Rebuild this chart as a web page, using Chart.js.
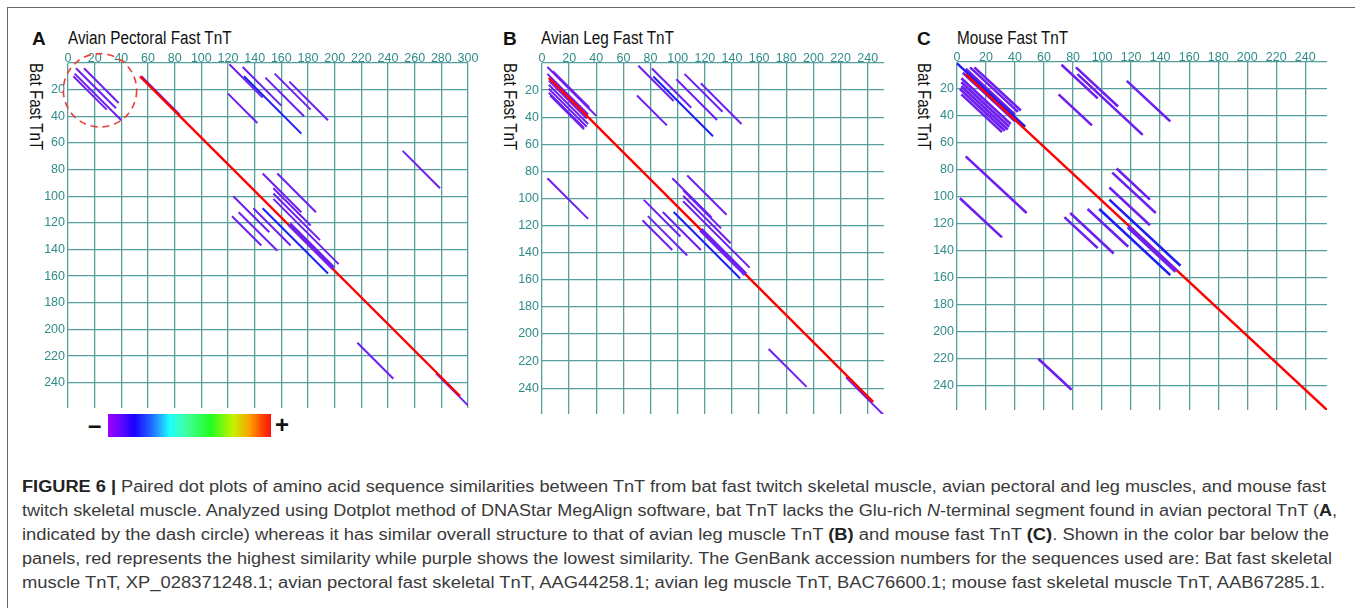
<!DOCTYPE html>
<html>
<head>
<meta charset="utf-8">
<script src="https://cdn.jsdelivr.net/npm/chart.js@4.4.1/dist/chart.umd.min.js"></script>
<style>
  body { margin: 0; background: #fff; }
  #fig { position: relative; width: 1355px; height: 608px; overflow: hidden; color: #111;
         font-family: 'Liberation Sans', Arial, sans-serif; }
  .frameTop { position: absolute; left: 7px; top: 7px; width: 1348px; height: 1px; background: #666; }
  .frameLeft { position: absolute; left: 7px; top: 7px; width: 1px; height: 601px; background: #666; }
  canvas { position: absolute; }
  .letter { position: absolute; font: bold 19px/19px 'Liberation Sans', Arial, sans-serif; }
  .ptitle { position: absolute; font-size: 18px; line-height: 18px; white-space: nowrap;
            transform: scaleX(0.85); transform-origin: 0 0; }
  .ytitle { position: absolute; writing-mode: vertical-rl; font-size: 18px; line-height: 18px; white-space: nowrap;
            transform: scaleY(0.84); transform-origin: 0 0; }
  #cbar { position: absolute; left: 108px; top: 414px; width: 163px; height: 23px;
          background: linear-gradient(to right, #a000ff 0%, #6008ff 8%, #1a00ff 16%, #2060ff 26%, #20ffff 38%,
                      #40ffa0 48%, #20ff20 63%, #c8f000 77%, #ffa000 87%, #ff4000 95%, #ff1010 100%); }
  .sign { position: absolute; font: bold 24px/24px 'Liberation Sans', Arial, sans-serif; }
  #caption { position: absolute; left: 22px; top: 475px; font: 16px/24px 'Liberation Sans', Arial, sans-serif; color: #3a3a3a; }
  #caption div { white-space: nowrap; transform-origin: 0 0; width: max-content; }
  #caption b { color: #222; }
</style>
</head>
<body>
<div id="fig">
  <div class="frameTop"></div>
  <div class="frameLeft"></div>

  <div class="letter" style="left:32px;top:29px">A</div>
  <div class="ptitle" style="left:68px;top:29px">Avian Pectoral Fast TnT</div>
  <div class="ytitle" style="left:27px;top:63px">Bat Fast TnT</div>

  <div class="letter" style="left:503px;top:29px">B</div>
  <div class="ptitle" style="left:541px;top:29px">Avian Leg Fast TnT</div>
  <div class="ytitle" style="left:501px;top:63px">Bat Fast TnT</div>

  <div class="letter" style="left:917px;top:29px">C</div>
  <div class="ptitle" style="left:957px;top:29px">Mouse Fast TnT</div>
  <div class="ytitle" style="left:915px;top:63px">Bat Fast TnT</div>

  <div class="sign" style="left:88px;top:413px">&ndash;</div>
  <div id="cbar"></div>
  <div class="sign" style="left:275px;top:413px">+</div>

  <div id="caption">
    <div><b>FIGURE 6 |</b> Paired dot plots of amino acid sequence similarities between TnT from bat fast twitch skeletal muscle, avian pectoral and leg muscles, and mouse fast</div>
    <div>twitch skeletal muscle. Analyzed using Dotplot method of DNAStar MegAlign software, bat TnT lacks the Glu-rich <i>N</i>-terminal segment found in avian pectoral TnT (<b>A</b>,</div>
    <div>indicated by the dash circle) whereas it has similar overall structure to that of avian leg muscle TnT <b>(B)</b> and mouse fast TnT <b>(C)</b>. Shown in the color bar below the</div>
    <div>panels, red represents the highest similarity while purple shows the lowest similarity. The GenBank accession numbers for the sequences used are: Bat fast skeletal</div>
    <div>muscle TnT, XP_028371248.1; avian pectoral fast skeletal TnT, AAG44258.1; avian leg muscle TnT, BAC76600.1; mouse fast skeletal muscle TnT, AAB67285.1.</div>
  </div>
</div>

<script>
// diagonal match segments: [start x (query residue), start y (bat residue), length]
// A: avian pectoral fast TnT (x) vs bat fast TnT (y)
const aPurple = [[5, 8, 35], [12, 4, 26], [6, 4, 30], [8, 6, 22], [4, 10, 25], [7, 5, 27], [55, 10, 29],
  [121, 1, 25], [131, 3, 29], [148, 11, 29], [155, 8, 27], [166, 14, 29], [120, 23, 22], [251, 66, 28],
  [146, 83, 29], [157, 83, 29], [154, 94, 28], [154, 98, 35], [154, 102, 49], [124, 100, 27],
  [128, 112, 29], [123, 115, 22], [139, 109, 28], [217, 210, 27], [276, 233, 24]];
const aBlue = [[132, 10, 43], [146, 109, 49]];
const aRed = [[54, 10, 240]];
const aThick = [[166, 121, 33]];

// B: avian leg fast TnT (x) vs bat fast TnT (y)
const bPurple = [[4, 3, 36], [6, 5, 30], [8, 6, 27], [4, 8, 30], [5, 13, 28], [5, 16, 29], [5, 19, 28],
  [5, 22, 26], [6, 24, 25], [71, 2, 26], [81, 4, 29], [99, 12, 30], [105, 8, 28], [117, 15, 30], [70, 24, 22],
  [4, 85, 30], [96, 85, 29], [107, 83, 29], [104, 94, 28], [104, 98, 35], [104, 102, 49], [75, 101, 27],
  [78, 113, 29], [74, 116, 22], [89, 110, 28], [167, 211, 28], [224, 232, 28]];
const bBlue = [[82, 10, 44], [97, 110, 49]];
const bRed = [[5, 11, 239]];
const bThick = [[117, 123, 33]];

// C: mouse fast TnT (x) vs bat fast TnT (y)
const cPurple = [[12, 4, 32], [9, 4, 33], [6, 5, 34], [4, 8, 36], [3, 12, 34], [3, 15, 33], [3, 18, 32],
  [3, 21, 30], [3, 24, 28], [8, 10, 34], [14, 6, 30], [5, 14, 32], [2, 20, 30],
  [72, 2, 25], [82, 4, 29], [83, 9, 45], [70, 24, 23], [117, 14, 30],
  [6, 70, 42], [2, 101, 29], [110, 79, 23], [107, 82, 30], [105, 93, 28], [90, 109, 28], [78, 112, 30],
  [74, 115, 23], [56, 220, 23]];
const cBlue = [[0, 1, 47], [105, 102, 49], [98, 109, 49]];
const cRed = [[6, 9, 249]];
const cThick = [[118, 122, 33]];

const xTicksStep = 20;
const yTicksStep = 20;
const circleCenter = [24, 20.5];   // dash circle around the Glu-rich N-terminal region (panel A)
const circleRadius = 27.5;

const PURPLE = '#6f1ff0', BLUE = '#1f1ff5', RED = '#ff0000';
const tickColor = '#2f8c89';
const gridColor = '#55a09c';
const fontFam = "'Liberation Sans', Arial, sans-serif";

const panels = [
  { area: [68.3, 63.3, 468.3, 408.3], xMax: 300, yMax: 259, purple: aPurple, blue: aBlue, red: aRed, thick: aThick, lw: 2, circle: true },
  { area: [541.7, 62.9, 883.3, 413.8], xMax: 252, yMax: 259, purple: bPurple, blue: bBlue, red: bRed, thick: bThick, lw: 2 },
  { area: [956.7, 62.3, 1326.7, 410], xMax: 255, yMax: 258, purple: cPurple, blue: cBlue, red: cRed, thick: cThick, lw: 2.6 }
];

function toLine(segs) {
  return segs.flatMap(([x, y, n]) => [{ x, y }, { x: x + n, y: y + n }, { x: null, y: null }]);
}

const dashCircle = {
  id: 'dashCircle',
  afterDatasetsDraw(chart) {
    if (!chart.options.plugins.dashCircle.show) return;
    const { ctx, scales: { x, y } } = chart;
    const cx = x.getPixelForValue(circleCenter[0]);
    const cy = y.getPixelForValue(circleCenter[1]);
    const r = x.getPixelForValue(circleCenter[0] + circleRadius) - cx;
    ctx.save();
    ctx.strokeStyle = '#e8403a';
    ctx.lineWidth = 1.6;
    ctx.setLineDash([7, 5]);
    ctx.beginPath();
    ctx.arc(cx, cy, r, 0, Math.PI * 2);
    ctx.stroke();
    ctx.restore();
  }
};

const W = 36, H = 22, padR = 18, padB = 14;
const fig = document.getElementById('fig');

panels.forEach(p => {
  const [l, t, r, b] = p.area;
  const canvas = document.createElement('canvas');
  canvas.width = Math.round(r - l + W + padR);
  canvas.height = Math.round(b - t + H + padB);
  canvas.style.left = (l - W) + 'px';
  canvas.style.top = (t - H) + 'px';
  fig.appendChild(canvas);

  const common = { showLine: true, pointRadius: 0, pointHoverRadius: 0, fill: false, tension: 0, spanGaps: false, borderCapStyle: 'butt' };

  new Chart(canvas, {
    type: 'scatter',
    data: {
      datasets: [
        { ...common, data: toLine(p.thick), borderColor: PURPLE, borderWidth: 4.5, order: 0 },
        { ...common, data: toLine(p.red), borderColor: RED, borderWidth: 2.4, order: 1 },
        { ...common, data: toLine(p.blue), borderColor: BLUE, borderWidth: p.lw, order: 2 },
        { ...common, data: toLine(p.purple), borderColor: PURPLE, borderWidth: p.lw, order: 3 }
      ]
    },
    options: {
      responsive: false,
      animation: false,
      devicePixelRatio: 1,
      layout: { padding: { left: 0, top: 0, right: padR, bottom: padB } },
      plugins: { legend: { display: false }, tooltip: { enabled: false }, dashCircle: { show: !!p.circle } },
      scales: {
        x: {
          type: 'linear', position: 'top', min: 0, max: p.xMax,
          ticks: { stepSize: xTicksStep, includeBounds: false, padding: -3, maxRotation: 0, autoSkip: false,
                   color: tickColor, font: { family: fontFam, size: 12.5 } },
          grid: { color: gridColor, lineWidth: 1.3, drawTicks: false },
          border: { display: false },
          afterFit: s => { s.height = H; }
        },
        y: {
          type: 'linear', reverse: true, min: 0, max: p.yMax,
          ticks: { stepSize: yTicksStep, includeBounds: false, padding: 3, autoSkip: false,
                   color: tickColor, font: { family: fontFam, size: 12.5 },
                   callback: v => (v === 0 ? '' : v) },
          grid: { color: gridColor, lineWidth: 1.3, drawTicks: false },
          border: { display: false },
          afterFit: s => { s.width = W; }
        }
      }
    },
    plugins: [dashCircle]
  });
});

// fit each caption line to the width it has in the printed figure
const captionRight = [1326, 1337, 1329, 1332, 1325];
document.querySelectorAll('#caption div').forEach((el, i) => {
  const w = el.getBoundingClientRect().width;
  el.style.transform = 'scaleX(' + ((captionRight[i] - 22) / w) + ')';
});
</script>
</body>
</html>
